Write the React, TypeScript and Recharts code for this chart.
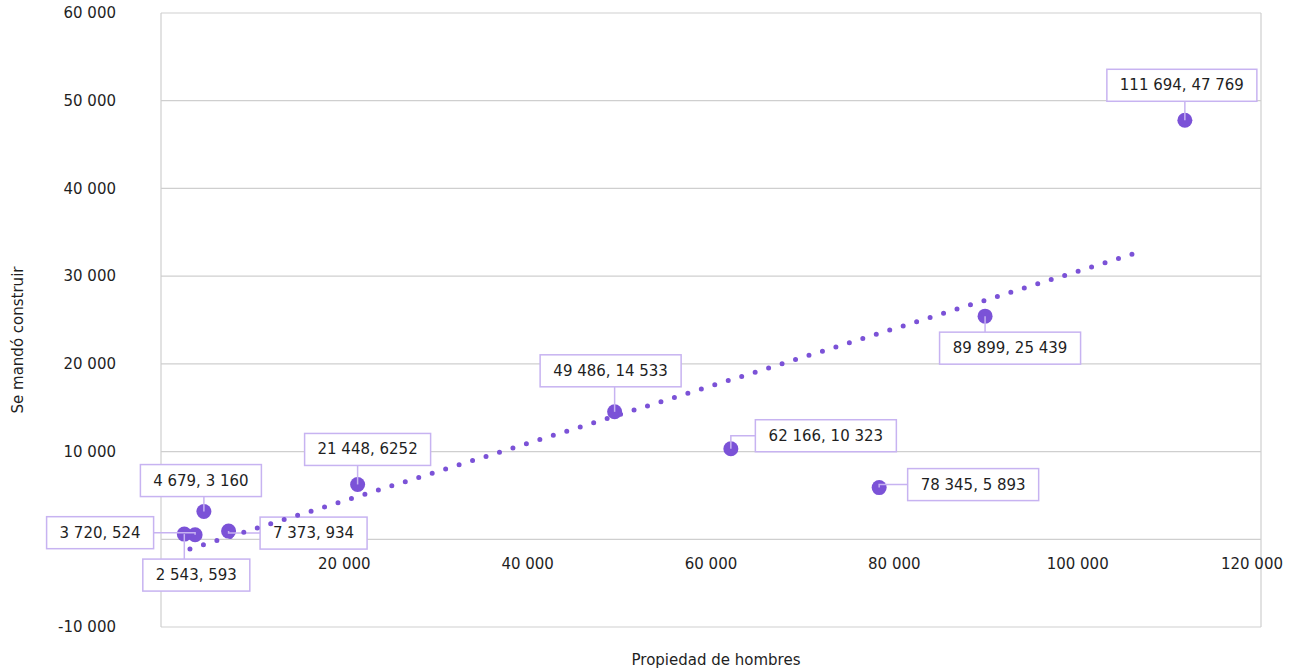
import React from "react";
import {
  ScatterChart,
  Scatter,
  XAxis,
  YAxis,
  CartesianGrid,
  ReferenceDot,
} from "recharts";

// propiedad de hombres (x) vs. se mandó construir (y)
const hombres = [111694, 89899, 78345, 62166, 49486, 21448, 7373, 4679, 3720, 2543];
const construir = [47769, 25439, 5893, 10323, 14533, 6252, 934, 3160, 524, 593];
const etiquetas = [
  "111 694, 47 769",
  "89 899, 25 439",
  "78 345, 5 893",
  "62 166, 10 323",
  "49 486, 14 533",
  "21 448, 6252",
  "7 373, 934",
  "4 679, 3 160",
  "3 720, 524",
  "2 543, 593",
];

// línea de tendencia (extremos)
const tendenciaX = [3160, 105930];
const tendenciaY = [-1110, 32490];

const xTicks = [0, 20000, 40000, 60000, 80000, 100000, 120000];
const yTicks = [-10000, 0, 10000, 20000, 30000, 40000, 50000, 60000];

// desplazamiento del centro de cada caja respecto a su punto (px)
const cajaDx = [-3, 25, 94, 95, -4, 10, 85, -3, -95, 12];
const cajaDy = [-35, 32, -3, -13, -41, -35, 2, -31, -2, 41];

const MORADO = "#7b52d7";
const LILA = "#c7b3f1";
const TEXTO = "#1f1f1f";
const REJILLA = "#cfcfcf";
const FUENTE = "'DejaVu Sans', sans-serif";
const TAM = 15;

const puntos = hombres.map((x, i) => ({ x, y: construir[i] }));
const cajas = hombres.map((x, i) => ({
  x,
  y: construir[i],
  texto: etiquetas[i],
  dx: cajaDx[i],
  dy: cajaDy[i],
}));
const tendencia = tendenciaX.map((x, i) => ({ x, y: tendenciaY[i] }));

const fmt = (n: number) => {
  const s = String(Math.abs(n)).replace(/\B(?=(\d{3})+(?!\d))/g, " ");
  return n < 0 ? "-" + s : s;
};

// el cero del eje y queda tapado por la caja de "3 720, 524"
const fmtY = (n: number) => (n === 0 ? "" : fmt(n));

let ctx: CanvasRenderingContext2D | null = null;
const medir = (t: string) => {
  if (!ctx) ctx = document.createElement("canvas").getContext("2d");
  if (!ctx) return t.length * 8;
  ctx.font = `${TAM}px ${FUENTE}`;
  return ctx.measureText(t).width;
};

function Punto(p: any) {
  return <circle cx={p.cx} cy={p.cy} r={7.5} fill={MORADO} />;
}

function Caja(p: any) {
  const { cx, cy, payload } = p;
  const w = Math.round(medir(payload.texto) + 26);
  const h = 32;
  const bx = cx + payload.dx;
  const by = cy + payload.dy;
  const left = bx - w / 2;
  const top = by - h / 2;
  let d: string;
  if (Math.abs(payload.dy) > h / 2) {
    const edgeY = payload.dy < 0 ? top + h : top;
    d = `M${cx},${cy} V${edgeY}`;
  } else {
    const edgeX = payload.dx < 0 ? left + w : left;
    d = `M${cx},${cy} V${by} H${edgeX}`;
  }
  return (
    <g>
      <path d={d} stroke={LILA} strokeWidth={1.5} fill="none" />
      <rect x={left} y={top} width={w} height={h} fill="#fff" stroke={LILA} strokeWidth={1.5} />
      <text
        x={bx}
        y={by}
        textAnchor="middle"
        dominantBaseline="central"
        fontSize={TAM}
        fontFamily={FUENTE}
        fill={TEXTO}
      >
        {payload.texto}
      </text>
    </g>
  );
}

// etiqueta del eje x, a la altura de y = 0; la última se recorre para no salirse
const EtiquetaX = (valor: number) => (lp: any) => {
  const vb = lp.viewBox;
  if (!vb) return null;
  const texto = fmt(valor);
  const w = medir(texto);
  let x = vb.x + vb.width / 2;
  x = Math.min(x, 1283 - w / 2);
  return (
    <text
      x={x}
      y={vb.y + vb.height + 24}
      textAnchor="middle"
      dominantBaseline="central"
      fontSize={TAM}
      fontFamily={FUENTE}
      fill={TEXTO}
    >
      {texto}
    </text>
  );
};

export default function App() {
  return (
    <div style={{ position: "absolute", left: 0, top: 0, background: "#fff" }}>
      <ScatterChart
        width={1293}
        height={669}
        margin={{ top: 13, right: 32, bottom: 0, left: 0 }}
        style={{ fontFamily: FUENTE }}
      >
        <CartesianGrid stroke={REJILLA} strokeWidth={1.2} />
        <XAxis
          type="number"
          dataKey="x"
          domain={[0, 120000]}
          ticks={xTicks}
          tick={false}
          axisLine={false}
          tickLine={false}
          height={42}
          label={{
            value: "Propiedad de hombres",
            position: "insideBottom",
            offset: 4,
            dx: 5,
            fill: TEXTO,
            fontSize: TAM,
          }}
        />
        <YAxis
          type="number"
          dataKey="y"
          domain={[-10000, 60000]}
          ticks={yTicks}
          tickFormatter={fmtY}
          tick={{ fill: TEXTO, fontSize: TAM }}
          axisLine={false}
          tickLine={false}
          tickSize={0}
          tickMargin={45}
          width={161}
          label={{
            content: (lp: any) => {
              const vb = lp.viewBox || { x: 0, y: 13, width: 161, height: 614 };
              const tx = vb.x + 18;
              const ty = vb.y + vb.height / 2 + 20;
              return (
                <text
                  x={tx}
                  y={ty}
                  transform={`rotate(-90 ${tx} ${ty})`}
                  textAnchor="middle"
                  dominantBaseline="central"
                  fontSize={TAM}
                  fontFamily={FUENTE}
                  fill={TEXTO}
                >
                  Se mandó construir
                </text>
              );
            },
          }}
        />
        {xTicks
          .filter((t) => t !== 0)
          .map((t) => (
            <ReferenceDot
              key={t}
              x={t}
              y={0}
              r={1}
              fill="none"
              stroke="none"
              label={{ content: EtiquetaX(t) }}
            />
          ))}
        <Scatter data={puntos} shape={Punto} isAnimationActive={false} />
        <Scatter data={cajas} shape={Caja} isAnimationActive={false} />
        <Scatter
          data={tendencia}
          shape={() => <g />}
          line={{
            stroke: MORADO,
            strokeWidth: 5,
            strokeDasharray: "0 14.1",
            strokeLinecap: "round",
          }}
          isAnimationActive={false}
        />
      </ScatterChart>
    </div>
  );
}
